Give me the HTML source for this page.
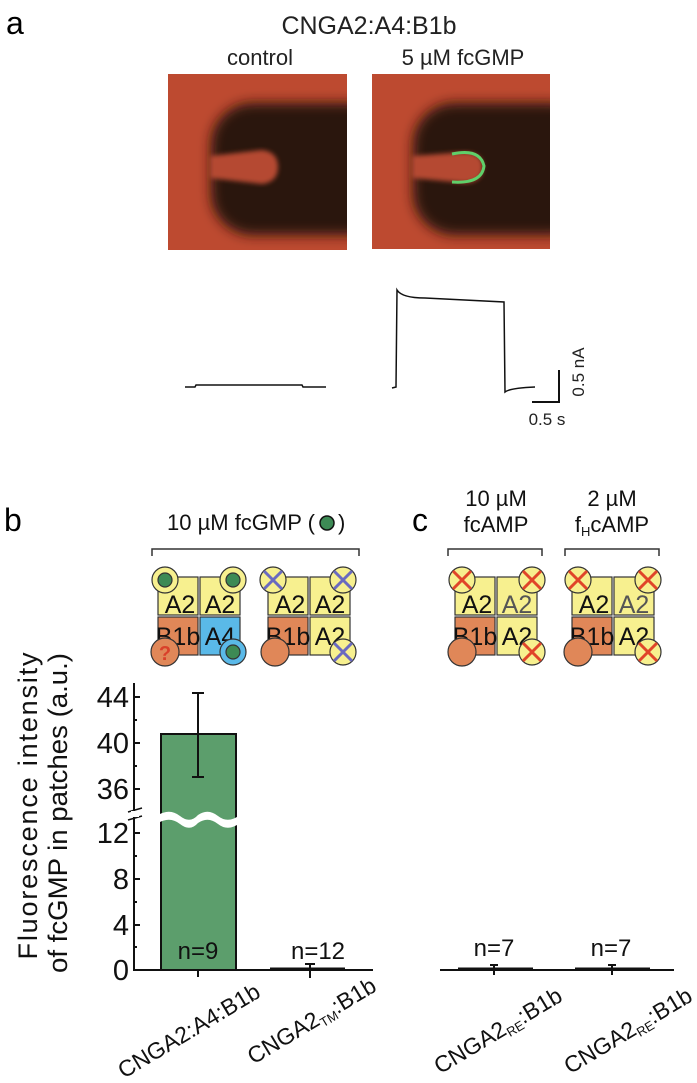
<!DOCTYPE html>
<html><head><meta charset="utf-8"><style>
html,body{margin:0;padding:0;background:#fff;}
svg{display:block;font-family:"Liberation Sans",Arial,sans-serif;}
</style></head><body>
<svg width="697" height="1083" viewBox="0 0 697 1083" xmlns="http://www.w3.org/2000/svg">
<defs>
<filter id="bl" x="-20%" y="-20%" width="140%" height="140%"><feGaussianBlur stdDeviation="6"/></filter>
<filter id="bl2"><feGaussianBlur stdDeviation="2.5"/></filter>
<clipPath id="c1"><rect x="168" y="74" width="179" height="176"/></clipPath>
<clipPath id="c2"><rect x="372" y="74" width="178" height="175"/></clipPath>
</defs>
<!-- panel a -->
<text x="6" y="34" font-size="32">a</text>
<text x="369" y="34" font-size="25" text-anchor="middle" fill="#222">CNGA2:A4:B1b</text>
<text x="260" y="65" font-size="22" text-anchor="middle" fill="#222">control</text>
<text x="463" y="65" font-size="22" text-anchor="middle" fill="#222">5 µM fcGMP</text>
<g clip-path="url(#c1)">
<rect x="168" y="74" width="179" height="176" fill="#bd4a30"/>
<rect x="211" y="103" width="180" height="132" rx="42" fill="#2a1207" filter="url(#bl)"/>
<path d="M262 150 Q278 152 278 167 Q278 182 262 184 L210 178 L210 156 Z" fill="#b54a30" filter="url(#bl2)"/>
</g>
<g clip-path="url(#c2)">
<rect x="372" y="74" width="178" height="175" fill="#bd4a30"/>
<rect x="413" y="103" width="180" height="132" rx="42" fill="#2a1207" filter="url(#bl)"/>
<path d="M465 152 Q483 153 483 167 Q483 182 465 183 L412 178 L412 156 Z" fill="#b54a30" filter="url(#bl2)"/>
<path d="M452 154 Q480 148 484 166 Q482 184 452 182" fill="none" stroke="#5fd06a" stroke-width="3"/>
</g>
<!-- traces -->
<g fill="none" stroke="#111" stroke-width="1.5">
<path d="M185 387 L195 387 L196 385 L302 385 L303 387 L326 387"/>
<path d="M392 388 L396 387 L397 290 Q402 298 425 298 L504 302 L505 392 Q510 388 535 387"/>
<path d="M559 370 L559 402 L532 402" stroke-width="2"/>
</g>
<text x="547" y="425" font-size="17" text-anchor="middle" fill="#222">0.5 s</text>
<text transform="translate(584,372) rotate(-90)" font-size="17" text-anchor="middle" fill="#222">0.5 nA</text>

<!-- panel b/c headers -->
<text x="4" y="531" font-size="32">b</text>
<text x="412" y="531" font-size="32">c</text>
<text x="167" y="530" font-size="22" fill="#111">10 µM fcGMP (</text>
<circle cx="327" cy="523" r="7" fill="#3d8a55" stroke="#111" stroke-width="1.5"/>
<text x="338" y="530" font-size="22" fill="#111">)</text>
<text x="496" y="506" font-size="22" text-anchor="middle" fill="#111">10 µM</text>
<text x="496" y="532" font-size="22" text-anchor="middle" fill="#111">fcAMP</text>
<text x="612" y="506" font-size="22" text-anchor="middle" fill="#111">2 µM</text>
<text x="612" y="532" font-size="22" text-anchor="middle" fill="#111">f<tspan font-size="13" dy="4">H</tspan><tspan dy="-4">cAMP</tspan></text>
<g fill="none" stroke="#333" stroke-width="1.5">
<path d="M152 556 V549 H359 V556"/>
<path d="M448 556 V549 H542 V556"/>
<path d="M565 556 V549 H659 V556"/>
</g>

<!-- channels -->
<g stroke="#333" stroke-width="1.2">
<rect x="158" y="577" width="40" height="38" fill="#f7f08f"/>
<rect x="200" y="577" width="40" height="38" fill="#f7f08f"/>
<rect x="158" y="617" width="40" height="38" fill="#e08758"/>
<rect x="200" y="617" width="40" height="38" fill="#5ab9e8"/>
<circle cx="165" cy="580" r="13" fill="#f7f08f"/><circle cx="165" cy="580" r="7" fill="#3d8a55"/>
<circle cx="233" cy="580" r="13" fill="#f7f08f"/><circle cx="233" cy="580" r="7" fill="#3d8a55"/>
<rect x="268" y="577" width="40" height="38" fill="#f7f08f"/>
<rect x="310" y="577" width="40" height="38" fill="#f7f08f"/>
<rect x="268" y="617" width="40" height="38" fill="#e08758"/>
<rect x="310" y="617" width="40" height="38" fill="#f7f08f"/>
<circle cx="273" cy="580" r="13" fill="#f7f08f"/>
<circle cx="343" cy="580" r="13" fill="#f7f08f"/>
<rect x="455" y="577" width="40" height="38" fill="#f7f08f"/>
<rect x="497" y="577" width="40" height="38" fill="#f7f08f"/>
<rect x="455" y="617" width="40" height="38" fill="#e08758"/>
<rect x="497" y="617" width="40" height="38" fill="#f7f08f"/>
<circle cx="462" cy="580" r="13" fill="#f7f08f"/>
<circle cx="532" cy="580" r="13" fill="#f7f08f"/>
<rect x="572" y="577" width="40" height="38" fill="#f7f08f"/>
<rect x="614" y="577" width="40" height="38" fill="#f7f08f"/>
<rect x="572" y="617" width="40" height="38" fill="#e08758"/>
<rect x="614" y="617" width="40" height="38" fill="#f7f08f"/>
<circle cx="578" cy="580" r="13" fill="#f7f08f"/>
<circle cx="648" cy="580" r="13" fill="#f7f08f"/>
</g>
<g font-size="25" text-anchor="middle" fill="#111">
<text x="180" y="613">A2</text><text x="220" y="613">A2</text>
<text x="178" y="645">B1b</text><text x="220" y="645">A4</text>
<text x="290" y="613">A2</text><text x="330" y="613">A2</text>
<text x="288" y="645">B1b</text><text x="330" y="645">A2</text>
<text x="477" y="613">A2</text><text x="517" y="613" fill="#555">A2</text>
<text x="475" y="645">B1b</text><text x="517" y="645">A2</text>
<text x="594" y="613">A2</text><text x="634" y="613" fill="#555">A2</text>
<text x="592" y="645">B1b</text><text x="634" y="645">A2</text>
</g>
<g stroke="#333" stroke-width="1.2">
<circle cx="233" cy="652" r="13" fill="#5ab9e8"/><circle cx="233" cy="652" r="7" fill="#3d8a55"/>
<circle cx="165" cy="652" r="14" fill="#e08758"/>
<circle cx="343" cy="652" r="13" fill="#f7f08f"/>
<circle cx="275" cy="652" r="14" fill="#e08758"/>
<circle cx="532" cy="652" r="13" fill="#f7f08f"/>
<circle cx="462" cy="652" r="14" fill="#e08758"/>
<circle cx="648" cy="652" r="13" fill="#f7f08f"/>
<circle cx="578" cy="652" r="14" fill="#e08758"/>
</g>
<text x="165" y="660" fill="#d9402a" font-weight="bold" font-size="20" text-anchor="middle">?</text>
<g stroke="#6a6ac0" stroke-width="3">
<path d="M264 571 L282 589 M282 571 L264 589"/>
<path d="M334 571 L352 589 M352 571 L334 589"/>
<path d="M334 643 L352 661 M352 643 L334 661"/>
</g>
<g stroke="#e0452a" stroke-width="3">
<path d="M453 571 L471 589 M471 571 L453 589"/>
<path d="M523 571 L541 589 M541 571 L523 589"/>
<path d="M523 643 L541 661 M541 643 L523 661"/>
<path d="M569 571 L587 589 M587 571 L569 589"/>
<path d="M639 571 L657 589 M657 571 L639 589"/>
<path d="M639 643 L657 661 M657 643 L639 661"/>
</g>

<!-- graph -->
<rect x="161" y="734" width="75" height="236" fill="#5c9e6c" stroke="#111" stroke-width="2"/>
<path d="M158 815 Q170 808 180 816 Q190 824 198 815 Q208 808 218 816 Q228 824 240 815 L240 823 Q228 832 218 824 Q208 816 198 823 Q190 832 180 824 Q170 816 158 823 Z" fill="#fff"/>
<g stroke="#111" stroke-width="2" fill="none">
<path d="M134 683 V970 H373"/>
<path d="M440 970 H674"/>
<path d="M198 693 V777 M192 693 H204 M192 777 H204"/>
<path d="M270 969 H345" stroke-width="3"/>
<path d="M310 964 V978 M305 964 H315"/>
<path d="M458 969 H533" stroke-width="3"/>
<path d="M494 965 V975 M490 965 H498"/>
<path d="M575 969 H650" stroke-width="3"/>
<path d="M612 965 V975 M608 965 H616"/>
<path d="M134 697 H140 M134 743 H140 M134 789 H140 M134 833 H140 M134 879 H140 M134 925 H140 M134 720 H137 M134 766 H137 M134 856 H137 M134 902 H137 M134 947 H137 M198 970 V977"/>
</g>
<path d="M128 812 L142 808 M128 820 L142 816" stroke="#111" stroke-width="1.5"/>
<rect x="131" y="811" width="8" height="6" fill="#fff"/>
<g font-size="29" text-anchor="end" fill="#111">
<text x="129" y="707">44</text><text x="129" y="753">40</text><text x="129" y="799">36</text>
<text x="129" y="843">12</text><text x="129" y="889">8</text><text x="129" y="935">4</text><text x="129" y="980">0</text>
</g>
<g font-size="24" text-anchor="middle" fill="#111">
<text x="198" y="959">n=9</text><text x="318" y="959">n=12</text>
<text x="494" y="956">n=7</text><text x="611" y="956">n=7</text>
</g>
<text transform="translate(37,806) rotate(-90)" font-size="27" text-anchor="middle" fill="#111" textLength="307" lengthAdjust="spacing">Fluorescence  intensity</text>
<text transform="translate(67,813) rotate(-90)" font-size="27" text-anchor="middle" fill="#111" textLength="320" lengthAdjust="spacingAndGlyphs">of fcGMP in patches (a.u.)</text>
<g font-size="23" text-anchor="end" fill="#111">
<text transform="translate(262,996) rotate(-31)">CNGA2:A4:B1b</text>
<text transform="translate(378,990) rotate(-31)">CNGA2<tspan font-size="13" dy="4">TM</tspan><tspan dy="-4">:B1b</tspan></text>
<text transform="translate(564,1000) rotate(-31)">CNGA2<tspan font-size="13" dy="4">RE</tspan><tspan dy="-4">:B1b</tspan></text>
<text transform="translate(694,1000) rotate(-31)">CNGA2<tspan font-size="13" dy="4">RE</tspan><tspan dy="-4">:B1b</tspan></text>
</g>
</svg>
</body></html>
